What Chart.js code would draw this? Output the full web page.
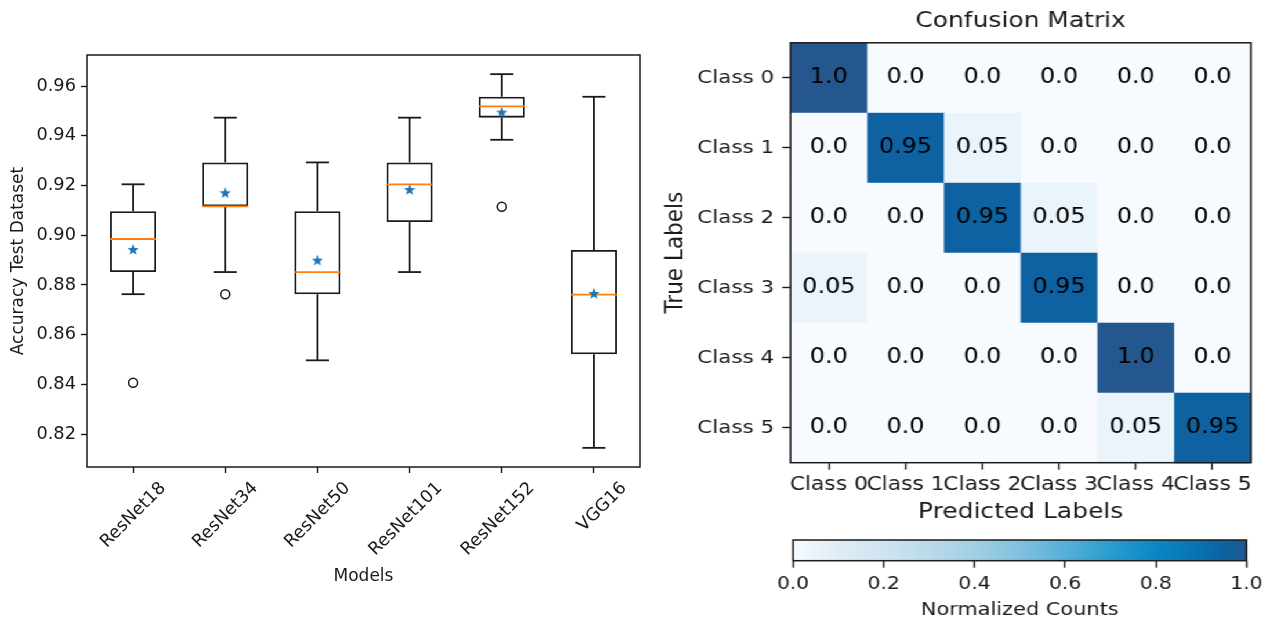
<!DOCTYPE html>
<html>
<head>
<meta charset="utf-8">
<title>Model accuracy and confusion matrix</title>
<script src="https://cdn.jsdelivr.net/npm/chart.js@4.4.1/dist/chart.umd.min.js"></script>
<style>
    html, body { margin: 0; padding: 0; background: #fff; }
    body { width: 1269px; height: 619px; overflow: hidden; position: relative; }
    #left { position: absolute; left: 0; top: 0; width: 650px; height: 619px; }
    /* the right figure is stretched horizontally in the original */
    #right { position: absolute; left: 650px; top: 0; width: 534px; height: 619px; transform: scaleX(1.16); transform-origin: 0 0; }
    #heat { position: absolute; left: 0; top: 0; width: 534px; height: 525px; }
    #cbar { position: absolute; left: 0; top: 525px; width: 534px; height: 100px; }
</style>
</head>
<body>
<div id="left"><canvas id="boxCanvas"></canvas></div>
<div id="right">
    <div id="heat"><canvas id="heatCanvas"></canvas></div>
    <div id="cbar"><canvas id="cbarCanvas"></canvas></div>
</div>
<script>
// Box plot data (accuracy on the test dataset)
const models = ['ResNet18', 'ResNet34', 'ResNet50', 'ResNet101', 'ResNet152', 'VGG16'];
const whiskerLow  = [0.8763, 0.8852, 0.8497, 0.8852, 0.9384, 0.8145];
const q1          = [0.8852, 0.9116, 0.8763, 0.9053, 0.9473, 0.8521];
const medians     = [0.8985, 0.9116, 0.8852, 0.9205, 0.9518, 0.8761];
const q3          = [0.9097, 0.9293, 0.9097, 0.9293, 0.9557, 0.8941];
const whiskerHigh = [0.9205, 0.9473, 0.9293, 0.9473, 0.9648, 0.9557];
const means       = [0.8941, 0.9169, 0.8898, 0.9182, 0.9493, 0.8764];
const outliers    = [0.8407, 0.8763, null, null, 0.9115, null];
const accTicks = [0.82, 0.84, 0.86, 0.88, 0.90, 0.92, 0.94, 0.96];

// Confusion matrix data
const classes = ['Class 0', 'Class 1', 'Class 2', 'Class 3', 'Class 4', 'Class 5'];
const confusion = [
    [1.0, 0.0, 0.0, 0.0, 0.0, 0.0],
    [0.0, 0.95, 0.05, 0.0, 0.0, 0.0],
    [0.0, 0.0, 0.95, 0.05, 0.0, 0.0],
    [0.05, 0.0, 0.0, 0.95, 0.0, 0.0],
    [0.0, 0.0, 0.0, 0.0, 1.0, 0.0],
    [0.0, 0.0, 0.0, 0.0, 0.05, 0.95]
];
const cbarTicks = [0.0, 0.2, 0.4, 0.6, 0.8, 1.0];

// Estilos
const ink = '#1a1a1a';
const medianColor = '#ff7f0e';
const meanColor = '#1f77b4';
const blues = [
    [0.0, '#f7fbff'], [0.1, '#dfecf6'], [0.2, '#d0e4f1'], [0.3, '#bbdaeb'],
    [0.4, '#a2cfe4'], [0.5, '#80c1de'], [0.6, '#56b0d7'], [0.7, '#2a9dcf'],
    [0.8, '#0a88c4'], [0.9, '#0a70b0'], [0.95, '#0e62a2'], [1.0, '#23578d']
];

Chart.defaults.font.family = "'DejaVu Sans', sans-serif";
Chart.defaults.color = ink;

function hexToRgb(h) {
    const n = parseInt(h.slice(1), 16);
    return [(n >> 16) & 255, (n >> 8) & 255, n & 255];
}

function colorFor(v) {
    for (let k = 1; k < blues.length; k++) {
        const [t1, c1] = blues[k];
        const [t0, c0] = blues[k - 1];
        if (v <= t1) {
            const f = (v - t0) / (t1 - t0);
            const a = hexToRgb(c0), b = hexToRgb(c1);
            const c = a.map((x, i) => Math.round(x + (b[i] - x) * f));
            return `rgb(${c[0]}, ${c[1]}, ${c[2]})`;
        }
    }
    return blues[blues.length - 1][1];
}

function formatCell(v) {
    return Math.abs(v * 10 - Math.round(v * 10)) < 1e-9 ? v.toFixed(1) : v.toFixed(2);
}

// Estrella (marcador de la media)
function makeStar(size, color) {
    const c = document.createElement('canvas');
    c.width = size;
    c.height = size;
    const g = c.getContext('2d');
    const r = size / 2, rIn = r * 0.42;
    g.beginPath();
    for (let k = 0; k < 10; k++) {
        const rad = k % 2 === 0 ? r : rIn;
        const ang = -Math.PI / 2 + k * Math.PI / 5;
        const px = r + rad * Math.cos(ang);
        const py = r + rad * Math.sin(ang);
        if (k === 0) g.moveTo(px, py); else g.lineTo(px, py);
    }
    g.closePath();
    g.fillStyle = color;
    g.fill();
    return c;
}

// Marco completo alrededor del area del grafico
const framePlugin = {
    id: 'frame',
    afterDraw(chart) {
        const { ctx, chartArea: a } = chart;
        ctx.save();
        ctx.strokeStyle = ink;
        ctx.lineWidth = 1.5;
        ctx.strokeRect(a.left, a.top, a.right - a.left, a.bottom - a.top);
        ctx.restore();
    }
};

// Bigotes, topes y medianas sobre las cajas
const boxPartsPlugin = {
    id: 'boxParts',
    afterDatasetDraw(chart, args) {
        if (args.index !== 0) return;
        const { ctx } = chart;
        const y = chart.scales.y;
        const line = (x1, y1, x2, y2) => {
            ctx.beginPath();
            ctx.moveTo(x1, y1);
            ctx.lineTo(x2, y2);
            ctx.stroke();
        };
        ctx.save();
        args.meta.data.forEach((bar, i) => {
            const cx = bar.x, half = bar.width / 2, cap = bar.width / 4;
            const yLo = y.getPixelForValue(whiskerLow[i]);
            const yQ1 = y.getPixelForValue(q1[i]);
            const yQ3 = y.getPixelForValue(q3[i]);
            const yHi = y.getPixelForValue(whiskerHigh[i]);
            const yMed = y.getPixelForValue(medians[i]);
            ctx.strokeStyle = ink;
            ctx.lineWidth = 1.8;
            line(cx, yQ3, cx, yHi);
            line(cx, yQ1, cx, yLo);
            line(cx - cap, yHi, cx + cap, yHi);
            line(cx - cap, yLo, cx + cap, yLo);
            ctx.strokeStyle = medianColor;
            line(cx - half, yMed, cx + half, yMed);
        });
        ctx.restore();
    }
};

// Celdas y textos de la matriz
const cellsPlugin = {
    id: 'cells',
    beforeDatasetsDraw(chart) {
        const { ctx, scales: { x, y } } = chart;
        const meta = chart.getDatasetMeta(0);
        const w = Math.abs(x.getPixelForValue(1) - x.getPixelForValue(0));
        const h = Math.abs(y.getPixelForValue(1) - y.getPixelForValue(0));
        ctx.save();
        meta.data.forEach((pt, k) => {
            const v = chart.data.datasets[0].data[k].v;
            ctx.fillStyle = colorFor(v);
            ctx.fillRect(pt.x - w / 2, pt.y - h / 2, w + 0.5, h + 0.5);
        });
        ctx.restore();
    },
    afterDatasetsDraw(chart) {
        const { ctx } = chart;
        const meta = chart.getDatasetMeta(0);
        ctx.save();
        ctx.fillStyle = '#000';
        ctx.font = "20.5px 'DejaVu Sans', sans-serif";
        ctx.textAlign = 'center';
        ctx.textBaseline = 'middle';
        meta.data.forEach((pt, k) => {
            const v = chart.data.datasets[0].data[k].v;
            ctx.fillText(formatCell(v), pt.x, pt.y);
        });
        ctx.restore();
    }
};

const tickGrid = (len) => ({
    display: true,
    drawOnChartArea: false,
    drawTicks: true,
    tickLength: len,
    tickWidth: 1.4,
    color: ink,
    offset: false
});

// Grafica de cajas
new Chart(document.getElementById('boxCanvas'), {
    type: 'bar',
    data: {
        labels: models,
        datasets: [
            {
                type: 'bar',
                data: models.map((m, i) => [q1[i], q3[i]]),
                backgroundColor: 'rgba(0,0,0,0)',
                borderColor: ink,
                borderWidth: 1.8,
                borderSkipped: false,
                barPercentage: 0.5,
                categoryPercentage: 1,
                order: 3
            },
            {
                type: 'line',
                data: outliers,
                showLine: false,
                pointStyle: 'circle',
                pointRadius: 4.5,
                pointBackgroundColor: 'rgba(0,0,0,0)',
                pointBorderColor: ink,
                pointBorderWidth: 1.5,
                order: 2
            },
            {
                type: 'line',
                data: means,
                showLine: false,
                pointStyle: makeStar(12, meanColor),
                pointRadius: 5,
                order: 1
            }
        ]
    },
    options: {
        responsive: true,
        maintainAspectRatio: false,
        animation: false,
        layout: { padding: { left: 0, right: 10, top: 55, bottom: 0 } },
        plugins: {
            legend: { display: false },
            tooltip: { enabled: false }
        },
        scales: {
            x: {
                type: 'category',
                offset: true,
                grid: tickGrid(6),
                border: { display: false },
                ticks: {
                    autoSkip: false,
                    maxRotation: 45,
                    minRotation: 45,
                    labelOffset: 30,
                    padding: 5,
                    color: ink,
                    font: { size: 17.5 }
                },
                title: {
                    display: true,
                    text: 'Models',
                    color: ink,
                    font: { size: 17 },
                    padding: { top: 0, bottom: 32 }
                },
                afterFit: (s) => { s.height = 152; }
            },
            y: {
                min: 0.8068,
                max: 0.9725,
                grid: tickGrid(6),
                border: { display: false },
                afterBuildTicks: (s) => { s.ticks = accTicks.map(v => ({ value: v })); },
                ticks: {
                    padding: 5,
                    color: ink,
                    font: { size: 17.8 },
                    callback: (v) => Number(v).toFixed(2)
                },
                title: {
                    display: true,
                    text: 'Accuracy Test Dataset',
                    color: ink,
                    font: { size: 17 },
                    padding: { top: 8, bottom: 0 }
                },
                afterFit: (s) => { s.width = 87; }
            }
        }
    },
    plugins: [boxPartsPlugin, framePlugin]
});

// Matriz de confusion
const cells = confusion.flatMap((row, i) => row.map((v, j) => ({ x: classes[j], y: classes[i], v })));

new Chart(document.getElementById('heatCanvas'), {
    type: 'scatter',
    data: {
        datasets: [{ data: cells, pointRadius: 0, pointHoverRadius: 0 }]
    },
    options: {
        responsive: true,
        maintainAspectRatio: false,
        animation: false,
        layout: { padding: { left: 0, right: 16, top: 0, bottom: 0 } },
        plugins: {
            legend: { display: false },
            tooltip: { enabled: false },
            title: {
                display: true,
                text: 'Confusion Matrix',
                fullSize: false,
                color: ink,
                font: { size: 21.5, weight: 'normal' },
                padding: { top: 9, bottom: 8 }
            }
        },
        scales: {
            x: {
                type: 'category',
                labels: classes,
                offset: true,
                grid: tickGrid(7),
                border: { display: false },
                ticks: {
                    autoSkip: false,
                    maxRotation: 0,
                    minRotation: 0,
                    padding: 4.5,
                    color: ink,
                    font: { size: 18.8 }
                },
                title: {
                    display: true,
                    text: 'Predicted Labels',
                    color: ink,
                    font: { size: 21.5 },
                    padding: { top: 0, bottom: 0 }
                },
                afterFit: (s) => { s.height = 62.3; }
            },
            y: {
                type: 'category',
                labels: classes,
                offset: true,
                grid: tickGrid(7),
                border: { display: false },
                ticks: {
                    autoSkip: false,
                    padding: 7,
                    color: ink,
                    font: { size: 18.5 }
                },
                title: {
                    display: true,
                    text: 'True Labels',
                    color: ink,
                    font: { size: 21.5 },
                    padding: { top: 9.8, bottom: 0 }
                },
                afterFit: (s) => { s.width = 121.1; }
            }
        }
    },
    plugins: [cellsPlugin, framePlugin]
});

// Barra de color
new Chart(document.getElementById('cbarCanvas'), {
    type: 'bar',
    data: {
        labels: [''],
        datasets: [{
            data: [[cbarTicks[0], cbarTicks[cbarTicks.length - 1]]],
            borderWidth: 0,
            barPercentage: 1,
            categoryPercentage: 1,
            backgroundColor: (c) => {
                const xs = c.chart.scales.x;
                if (!xs || !c.chart.chartArea) return blues[0][1];
                const g = c.chart.ctx.createLinearGradient(xs.getPixelForValue(0), 0, xs.getPixelForValue(1), 0);
                blues.forEach(([t, col]) => g.addColorStop(t, col));
                return g;
            }
        }]
    },
    options: {
        indexAxis: 'y',
        responsive: true,
        maintainAspectRatio: false,
        animation: false,
        layout: { padding: { left: 123.3, right: 18.5, top: 15, bottom: 0 } },
        plugins: {
            legend: { display: false },
            tooltip: { enabled: false }
        },
        scales: {
            x: {
                type: 'linear',
                min: 0,
                max: 1,
                grid: tickGrid(7),
                border: { display: false },
                afterBuildTicks: (s) => { s.ticks = cbarTicks.map(v => ({ value: v })); },
                ticks: {
                    padding: 5.8,
                    color: ink,
                    font: { size: 17.5 },
                    maxRotation: 0,
                    callback: (v) => Number(v).toFixed(1)
                },
                title: {
                    display: true,
                    text: 'Normalized Counts',
                    color: ink,
                    font: { size: 18 },
                    padding: { top: 0, bottom: 4.2 }
                },
                afterFit: (s) => { s.height = 64.3; }
            },
            y: { display: false }
        }
    },
    plugins: [framePlugin]
});
</script>
</body>
</html>
